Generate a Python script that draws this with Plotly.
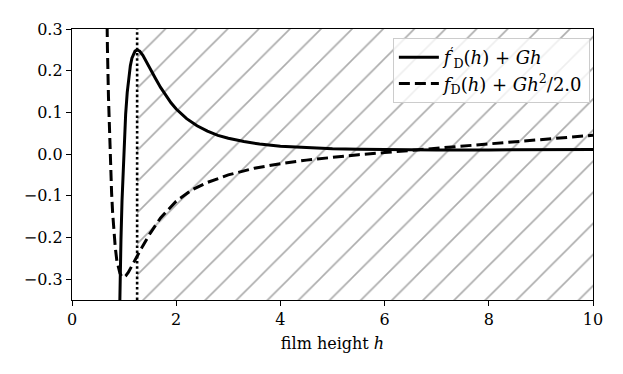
import plotly.graph_objects as go

FONT = 'DejaVu Serif'

# values
h_solid = [0.88, 0.90, 0.92, 0.94, 0.96, 0.98, 1.00, 1.03, 1.06, 1.09, 1.12, 1.15, 1.18, 1.21, 1.25,
	1.30, 1.36, 1.43, 1.50, 1.60, 1.70, 1.80, 1.90, 2.00, 2.20, 2.40, 2.60, 2.80, 3.00, 3.30,
	3.60, 4.00, 4.50, 5.00, 5.50, 6.00, 7.00, 8.00, 9.00, 10.0]
deriv = [-0.615, -0.451, -0.315, -0.204, -0.112, -0.038, 0.024, 0.096, 0.148, 0.185, 0.212, 0.230, 0.241, 0.247, 0.250,
	0.247, 0.237, 0.222, 0.206, 0.182, 0.160, 0.140, 0.123, 0.108, 0.085, 0.068, 0.055, 0.045, 0.038, 0.030,
	0.024, 0.019, 0.015, 0.0127, 0.0113, 0.0105, 0.0098, 0.0099, 0.0103, 0.011]

h_dash = [0.62, 0.64, 0.66, 0.68, 0.70, 0.72, 0.74, 0.76, 0.78, 0.80, 0.83, 0.86, 0.89, 0.92, 0.95,
	0.99, 1.03, 1.08, 1.15, 1.25, 1.35, 1.50, 1.70, 2.00, 2.30, 2.60, 3.00, 3.50, 4.00, 4.50,
	5.00, 5.50, 6.00, 6.50, 7.00, 7.50, 8.00, 8.50, 9.00, 9.50, 10.0]
energy = [0.806, 0.579, 0.399, 0.254, 0.137, 0.043, -0.032, -0.093, -0.141, -0.180, -0.223, -0.255, -0.274, -0.286, -0.293,
	-0.296, -0.292, -0.284, -0.268, -0.243, -0.222, -0.190, -0.153, -0.113, -0.086, -0.068, -0.050, -0.034, -0.023, -0.0145,
	-0.0075, -0.0015, 0.0035, 0.0088, 0.0140, 0.0192, 0.0244, 0.0294, 0.0345, 0.0398, 0.0452]

h_crit = 1.25
x_range = [0, 10]
y_range = [-0.35, 0.3]

fig = go.Figure()

# hatched region right of the critical height
fig.add_trace(go.Scatter(
	x=[h_crit, x_range[1], x_range[1], h_crit, h_crit],
	y=[y_range[0], y_range[0], y_range[1], y_range[1], y_range[0]],
	mode='lines', fill='toself', fillcolor='white',
	fillpattern=dict(shape='/', fgcolor='#5a5a5a', bgcolor='white', size=22, solidity=0.075),
	line=dict(width=0), showlegend=False, hoverinfo='skip'
))

fig.add_trace(go.Scatter(
	x=[h_crit, h_crit], y=y_range, mode='lines',
	line=dict(color='black', width=2.6, dash='2.6px,2.6px'),
	showlegend=False, hoverinfo='skip'
))

fig.add_trace(go.Scatter(
	x=h_solid, y=deriv, mode='lines',
	line=dict(color='black', width=3),
	name='<i>f</i><sup>′</sup><sub>D</sub>(<i>h</i>) + <i>Gh</i>'
))

fig.add_trace(go.Scatter(
	x=h_dash, y=energy, mode='lines',
	line=dict(color='black', width=3, dash='11px,5px'),
	name='<i>f</i><sub>D</sub>(<i>h</i>) + <i>Gh</i><sup>2</sup>/2.0'
))

axis = dict(
	showgrid=False, zeroline=False, showline=True, linecolor='black', linewidth=1.3,
	mirror=True, ticks='outside', ticklen=5, tickwidth=1.3, tickcolor='black',
	tickfont=dict(family=FONT, size=16, color='black'),
)

fig.update_xaxes(axis, range=x_range, tickvals=[0, 2, 4, 6, 8, 10],
	title=dict(text='film height <i>h</i>', font=dict(family=FONT, size=16, color='black'), standoff=9))
fig.update_yaxes(axis, range=y_range, tickvals=[-0.3, -0.2, -0.1, 0.0, 0.1, 0.2, 0.3], tickformat='.1f')

# page body has an 8px margin, so the figure is shrunk by that much
fig.update_layout(
	width=615, height=366,
	margin=dict(l=64, r=30, t=19, b=74),
	paper_bgcolor='white', plot_bgcolor='white',
	font=dict(family=FONT, color='black'),
	legend=dict(
		x=0.994, y=0.967, xanchor='right', yanchor='top',
		bgcolor='rgba(255,255,255,0.8)', bordercolor='#cccccc', borderwidth=1,
		font=dict(family=FONT, size=18, color='black'), itemwidth=40,
	),
)

fig.write_html("out.html")
